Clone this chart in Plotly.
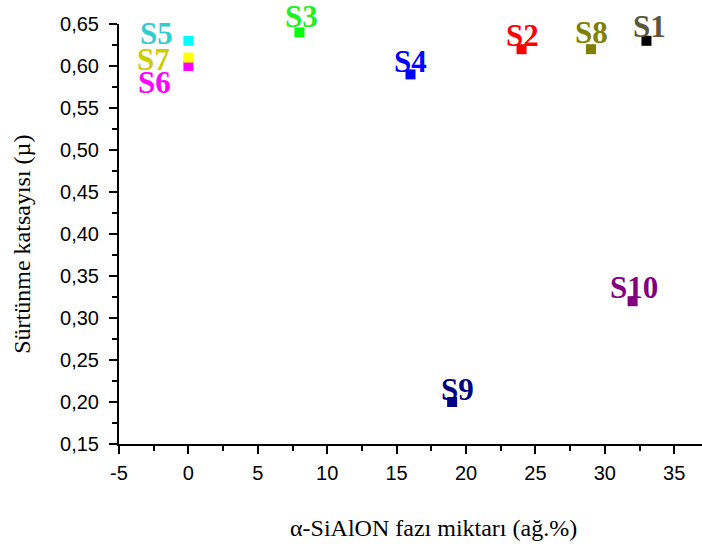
import plotly.graph_objects as go

# Sample data: alpha-SiAlON phase content (wt.%) vs. friction coefficient
samples = ["S1", "S2", "S3", "S4", "S5", "S6", "S7", "S8", "S9", "S10"]
sialon_pct = [33, 24, 8, 16, 0, 0, 0, 29, 19, 32]
friction = [0.63, 0.62, 0.64, 0.59, 0.63, 0.60, 0.61, 0.62, 0.20, 0.32]

marker_colors = ["#000000", "#ff0000", "#00ff00", "#0000ff", "#00ffff",
                 "#ff00ff", "#ffff00", "#808000", "#000080", "#800080"]
label_colors = ["#58573a", "#ff0000", "#22ee22", "#0000ff", "#33cccc",
                "#ff00ff", "#cccc00", "#808000", "#000080", "#800080"]
# label offsets in pixels (x, y) relative to each point
label_shift = [(3, 14), (1, 14), (2, 16), (0, 13), (-32, 7),
               (-34, -16), (-35, -2), (1, 17), (5, 13), (1, 14)]

SERIF = "Liberation Serif, Times New Roman, serif"
SANS = "Liberation Sans, Arial, sans-serif"

W, H = 702, 549
L, R, T, B = 118.5, 0, 24, 105.3
pw, ph = W - L - R, H - T - B


def px_to_paper(xp, yp):
    return (xp - L) / pw, (H - B - yp) / ph


fig = go.Figure()
fig.add_trace(go.Scatter(
    x=sialon_pct, y=friction, mode="markers",
    marker=dict(symbol="square", size=10, color=marker_colors, line=dict(width=0)),
    showlegend=False, hoverinfo="skip",
))

annotations = []
for name, xv, yv, col, (dx, dy) in zip(samples, sialon_pct, friction, label_colors, label_shift):
    annotations.append(dict(
        x=xv, y=yv, xref="x", yref="y", text=f"<b>{name}</b>", showarrow=False,
        xshift=dx, yshift=dy, xanchor="center", yanchor="middle",
        font=dict(family=SERIF, size=31, color=col),
    ))

# axis titles
xt_x, xt_y = px_to_paper(433, 528)
annotations.append(dict(
    x=xt_x, y=xt_y, xref="paper", yref="paper", text="α-SiAlON fazı miktarı (ağ.%)",
    showarrow=False, xanchor="center", yanchor="middle",
    font=dict(family=SERIF, size=24, color="#000"),
))
yt_x, yt_y = px_to_paper(22, 244)
annotations.append(dict(
    x=yt_x, y=yt_y, xref="paper", yref="paper", text="Sürtünme katsayısı (µ)",
    showarrow=False, textangle=-90, xanchor="center", yanchor="middle",
    font=dict(family=SERIF, size=24, color="#000"),
))

xticks = [-5, 0, 5, 10, 15, 20, 25, 30, 35]
yticks = [0.15, 0.20, 0.25, 0.30, 0.35, 0.40, 0.45, 0.50, 0.55, 0.60, 0.65]

fig.update_layout(
    width=W, height=H,
    margin=dict(l=L, r=R, t=T, b=B),
    paper_bgcolor="white", plot_bgcolor="white",
    annotations=annotations,
    xaxis=dict(
        range=[-5, 37], showgrid=False, zeroline=False,
        showline=True, linecolor="black", linewidth=2,
        tickmode="array", tickvals=xticks, ticktext=[str(t) for t in xticks],
        ticks="outside", ticklen=8, tickwidth=2, tickcolor="black",
        ticklabelstandoff=2,
        minor=dict(tickmode="linear", tick0=-5, dtick=2.5, ticks="outside",
                   ticklen=5, tickwidth=2, tickcolor="black", showgrid=False),
        tickfont=dict(family=SANS, size=20, color="black"),
    ),
    yaxis=dict(
        range=[0.15, 0.65], showgrid=False, zeroline=False,
        showline=True, linecolor="black", linewidth=2,
        tickmode="array", tickvals=yticks,
        ticktext=[f"{t:.2f}".replace(".", ",") for t in yticks],
        ticks="outside", ticklen=8, tickwidth=2, tickcolor="black",
        ticklabelstandoff=6,
        minor=dict(tickmode="linear", tick0=0.15, dtick=0.025, ticks="outside",
                   ticklen=5, tickwidth=2, tickcolor="black", showgrid=False),
        tickfont=dict(family=SANS, size=20, color="black"),
    ),
)

fig.write_html("out.html")
